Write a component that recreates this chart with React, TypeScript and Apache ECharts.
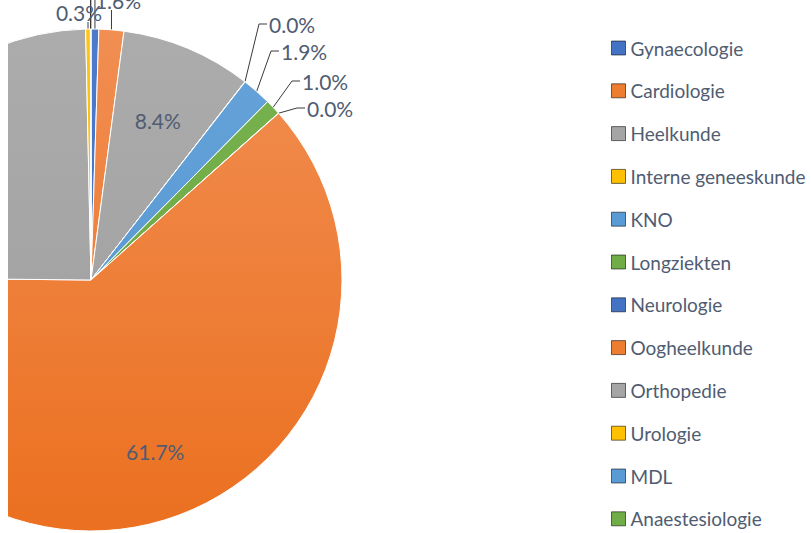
import React, { useEffect, useRef } from "react";
import * as echarts from "echarts";

// ---- data ----
const categories = [
  "Gynaecologie",
  "Cardiologie",
  "Heelkunde",
  "Interne geneeskunde",
  "KNO",
  "Longziekten",
  "Neurologie",
  "Oogheelkunde",
  "Orthopedie",
  "Urologie",
  "MDL",
  "Anaestesiologie",
];
const shares = [0.5, 1.6, 8.4, 0.02, 1.9, 1.0, 0.02, 61.7, 24.5, 0.3, 0.02, 0.02];

// ---- styles ----
const baseColors = ["#4472C4", "#ED7D31", "#A5A5A5", "#FFC000", "#5B9BD5", "#70AD47"];
const topColors = ["#4F7BCB", "#F18E52", "#ACACAC", "#FFC414", "#66A3D9", "#78B350"];
const bottomColors = ["#3B68BD", "#EB7020", "#9C9C9C", "#F5B800", "#4F92CF", "#66A23E"];

const CX = 83;
const CY = 280;
const R = 251;
const FONT = "Lato, 'Open Sans', sans-serif";
const TEXT_COLOR = "#505c72";

// label placement per slice: inside (fraction of radius), top (label centre), right (label left, centre y)
type Place =
  | { kind: "inside"; f: number }
  | { kind: "top"; x: number; y: number }
  | { kind: "right"; x: number; y: number };
const placement: Place[] = [
  { kind: "top", x: 92, y: -40 },
  { kind: "top", x: 110, y: 0 },
  { kind: "inside", f: 0.69 },
  { kind: "right", x: 261, y: 24 },
  { kind: "right", x: 273, y: 51 },
  { kind: "right", x: 294, y: 81 },
  { kind: "right", x: 299, y: 108 },
  { kind: "inside", f: 0.73 },
  { kind: "inside", f: 0.7 },
  { kind: "top", x: 71, y: 12 },
  { kind: "top", x: 76, y: -60 },
  { kind: "top", x: 84, y: -80 },
];

function midAngles(values: number[]) {
  const total = values.reduce((a, b) => a + b, 0);
  const out: number[] = [];
  let acc = 0;
  for (const v of values) {
    out.push(((acc + v / 2) / total) * Math.PI * 2);
    acc += v;
  }
  return out;
}

export default function App() {
  const ref = useRef<HTMLDivElement>(null);

  useEffect(() => {
    if (!ref.current) return;
    const chart = echarts.init(ref.current, undefined, { renderer: "svg" });
    const mids = midAngles(shares);

    const grad = (i: number) =>
      new echarts.graphic.LinearGradient(
        0,
        CY - R,
        0,
        CY + R,
        [
          { offset: 0, color: topColors[i % 6] },
          { offset: 1, color: bottomColors[i % 6] },
        ],
        true
      );

    const data = categories.map((name, i) => {
      const inside = placement[i].kind === "inside";
      return {
        name,
        value: shares[i],
        itemStyle: { color: grad(i) },
        label: { position: inside ? "inside" : "outside" },
        labelLine: { show: !inside },
      };
    });

    chart.setOption({
      animation: false,
      backgroundColor: "#ffffff",
      legend: {
        orient: "vertical",
        left: 603,
        top: 38,
        padding: 0,
        itemWidth: 14,
        itemHeight: 14,
        itemGap: 22.8,
        icon: "rect",
        selectedMode: false,
        itemStyle: { borderColor: "rgba(0,0,0,0.55)", borderWidth: 1 },
        textStyle: { fontFamily: FONT, fontSize: 19, color: TEXT_COLOR, lineHeight: 20 },
        data: categories.map((name, i) => ({
          name,
          itemStyle: { color: baseColors[i % 6] },
        })),
      },
      series: [
        {
          type: "pie",
          center: [CX, CY],
          radius: R,
          startAngle: 90,
          clockwise: true,
          avoidLabelOverlap: false,
          itemStyle: { borderColor: "#ffffff", borderWidth: 1 },
          label: {
            show: true,
            fontFamily: FONT,
            fontSize: 21,
            color: TEXT_COLOR,
            formatter: (p: any) => p.value.toFixed(1) + "%",
          },
          labelLine: {
            show: true,
            lineStyle: { color: "#3a3a3a", width: 1 },
          },
          labelLayout: (params: any) => {
            const i = params.dataIndex;
            const pl = placement[i];
            const a = mids[i];
            const ax = CX + R * Math.sin(a);
            const ay = CY - R * Math.cos(a);
            if (pl.kind === "inside") {
              return {
                x: CX + pl.f * R * Math.sin(a),
                y: CY - pl.f * R * Math.cos(a),
                align: "center",
                verticalAlign: "middle",
              };
            }
            if (pl.kind === "top") {
              return {
                x: pl.x,
                y: pl.y,
                align: "center",
                verticalAlign: "middle",
                labelLinePoints: [
                  [ax, ay],
                  [ax, pl.y + 10],
                ],
              };
            }
            return {
              x: pl.x,
              y: pl.y,
              align: "left",
              verticalAlign: "middle",
              labelLinePoints: [
                [ax, ay],
                [pl.x - 10, pl.y],
                [pl.x - 2, pl.y],
              ],
            };
          },
          data,
        },
      ],
    });

    return () => chart.dispose();
  }, []);

  return (
    <div
      ref={ref}
      style={{ position: "absolute", left: 8, top: 0, width: 803, height: 533, background: "#fff" }}
    />
  );
}
